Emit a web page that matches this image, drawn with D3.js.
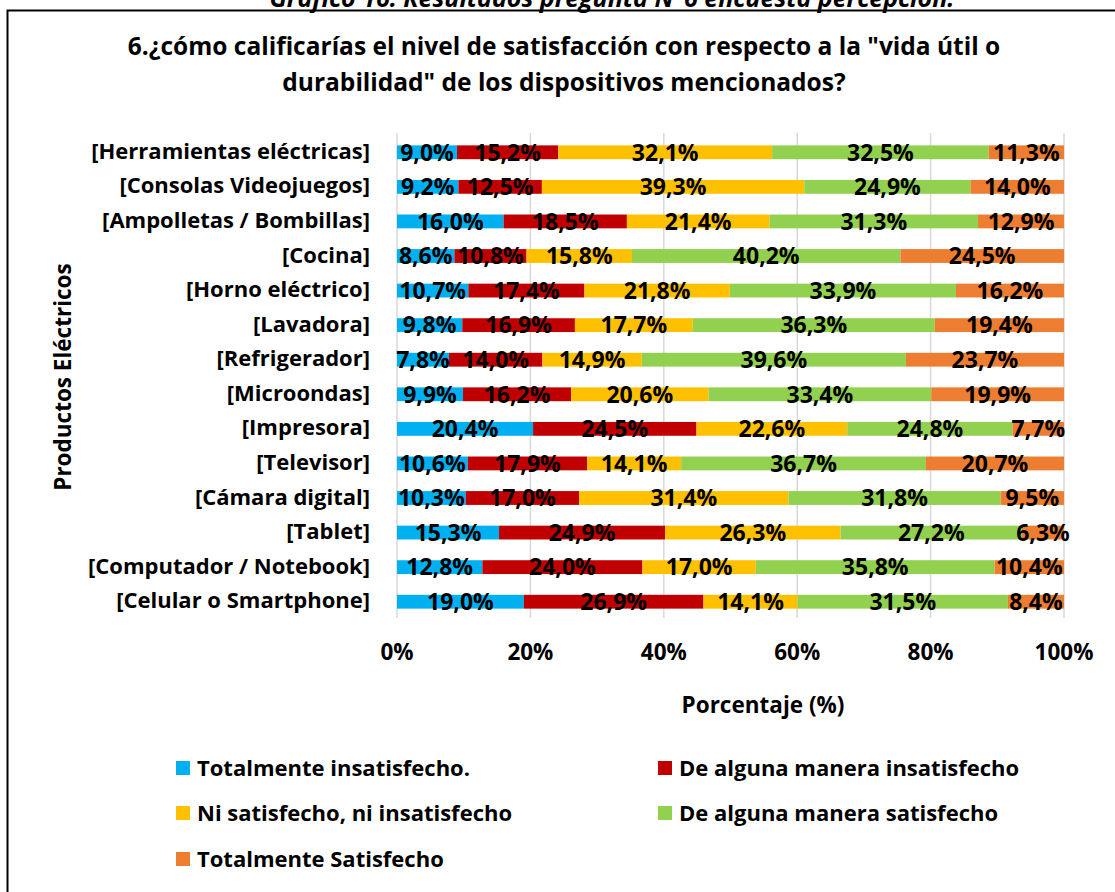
<!DOCTYPE html>
<html>
<head>
<meta charset="utf-8">
<script src="https://cdn.jsdelivr.net/npm/d3@7"></script>
<style>
  body { margin: 0; background: #fff; }
  text { font-family: "Open Sans", sans-serif; font-weight: bold; fill: #000; }
</style>
</head>
<body>
<svg id="chart" width="1115" height="892"></svg>
<script>
// data (percent per category)
var categories = ["[Herramientas eléctricas]", "[Consolas Videojuegos]", "[Ampolletas / Bombillas]",
    "[Cocina]", "[Horno eléctrico]", "[Lavadora]", "[Refrigerador]", "[Microondas]", "[Impresora]",
    "[Televisor]", "[Cámara digital]", "[Tablet]", "[Computador / Notebook]", "[Celular o Smartphone]"];
var totalInsat = [9.0, 9.2, 16.0, 8.6, 10.7, 9.8, 7.8, 9.9, 20.4, 10.6, 10.3, 15.3, 12.8, 19.0];
var algoInsat  = [15.2, 12.5, 18.5, 10.8, 17.4, 16.9, 14.0, 16.2, 24.5, 17.9, 17.0, 24.9, 24.0, 26.9];
var niNi       = [32.1, 39.3, 21.4, 15.8, 21.8, 17.7, 14.9, 20.6, 22.6, 14.1, 31.4, 26.3, 17.0, 14.1];
var algoSat    = [32.5, 24.9, 31.3, 40.2, 33.9, 36.3, 39.6, 33.4, 24.8, 36.7, 31.8, 27.2, 35.8, 31.5];
var totalSat   = [11.3, 14.0, 12.9, 24.5, 16.2, 19.4, 23.7, 19.9, 7.7, 20.7, 9.5, 6.3, 10.4, 8.4];
var seriesNames = ["Totalmente insatisfecho.", "De alguna manera insatisfecho",
    "Ni satisfecho, ni insatisfecho", "De alguna manera satisfecho", "Totalmente Satisfecho"];
var seriesColors = ["#00B0F0", "#C00000", "#FFC000", "#92D050", "#ED7D31"];
var tickValues = [0, 0.2, 0.4, 0.6, 0.8, 1];

var svg = d3.select("#chart");

// build rows for the stack
var allSeries = [totalInsat, algoInsat, niNi, algoSat, totalSat];
var keys = ["s0", "s1", "s2", "s3", "s4"];
var rows = categories.map(function (c, i) {
    var r = {cat: c};
    keys.forEach(function (k, j) { r[k] = allSeries[j][i]; });
    return r;
});
var stacked = d3.stack().keys(keys).offset(d3.stackOffsetExpand)(rows);

var x = d3.scaleLinear().domain([0, 1]).range([397, 1064]);
var y = d3.scaleBand().domain(categories).range([135, 619])
    .paddingInner(0.6).paddingOuter(0.3);

// outer frame
svg.append("rect")
    .attr("x", 7.5).attr("y", 10.5)
    .attr("width", 1120).attr("height", 900)
    .attr("fill", "none").attr("stroke", "#000").attr("stroke-width", 2);

// caption (cut at top, as in the source page)
svg.append("text")
    .attr("x", 612).attr("y", 7)
    .attr("text-anchor", "middle")
    .style("font-style", "italic")
    .style("font-size", "25px")
    .text("Gráfico 16: Resultados pregunta N°6 encuesta percepción.");

// title
var title = svg.append("text")
    .attr("text-anchor", "middle")
    .style("font-size", "24.5px");
title.append("tspan").attr("x", 564).attr("y", 55)
    .text("6.¿cómo calificarías el nivel de satisfacción con respecto a la \"vida útil o");
title.append("tspan").attr("x", 564).attr("y", 91)
    .text("durabilidad\" de los dispositivos mencionados?");

// gridlines
svg.append("g")
    .selectAll("line")
    .data(tickValues)
    .enter().append("line")
    .attr("x1", x).attr("x2", x)
    .attr("y1", 133).attr("y2", 618)
    .attr("stroke", "#d9d9d9")
    .attr("stroke-width", 1.5);

// bars
var layers = svg.append("g")
    .selectAll("g")
    .data(stacked)
    .enter().append("g")
    .attr("fill", function (d, i) { return seriesColors[i]; });

layers.selectAll("rect")
    .data(function (d) { return d; })
    .enter().append("rect")
    .attr("x", function (d) { return x(d[0]); })
    .attr("width", function (d) { return x(d[1]) - x(d[0]); })
    .attr("y", function (d) { return y(d.data.cat); })
    .attr("height", y.bandwidth());

// data labels
stacked.forEach(function (layer, j) {
    svg.append("g")
        .selectAll("text")
        .data(layer)
        .enter().append("text")
        .attr("x", function (d) { return (x(d[0]) + x(d[1])) / 2; })
        .attr("y", function (d) { return y(d.data.cat) + y.bandwidth() / 2; })
        .attr("dy", "0.36em")
        .attr("text-anchor", "middle")
        .style("font-size", "23px")
        .text(function (d, i) { return allSeries[j][i].toFixed(1).replace(".", ",") + "%"; });
});

// category labels
svg.append("g")
    .selectAll("text")
    .data(categories)
    .enter().append("text")
    .attr("x", 370)
    .attr("y", function (d) { return y(d) + y.bandwidth() / 2; })
    .attr("dy", "0.3em")
    .attr("text-anchor", "end")
    .style("font-size", "22px")
    .text(function (d) { return d; });

// x tick labels
svg.append("g")
    .selectAll("text")
    .data(tickValues)
    .enter().append("text")
    .attr("x", x)
    .attr("y", 652)
    .attr("dy", "0.35em")
    .attr("text-anchor", "middle")
    .style("font-size", "22.5px")
    .text(function (d) { return d3.format(".0%")(d); });

// axis titles
svg.append("text")
    .attr("x", 763).attr("y", 705)
    .attr("dy", "0.35em")
    .attr("text-anchor", "middle")
    .style("font-size", "22.5px")
    .text("Porcentaje (%)");

svg.append("text")
    .attr("transform", "translate(63,377) rotate(-90)")
    .attr("dy", "0.35em")
    .attr("text-anchor", "middle")
    .style("font-size", "22.5px")
    .text("Productos Eléctricos");

// legend
var legendPos = [[176, 768], [658, 768], [176, 813], [658, 813], [176, 859]];
var legend = svg.append("g")
    .selectAll("g")
    .data(seriesNames)
    .enter().append("g")
    .attr("transform", function (d, i) { return "translate(" + legendPos[i][0] + "," + legendPos[i][1] + ")"; });

legend.append("rect")
    .attr("x", 0).attr("y", -7)
    .attr("width", 14).attr("height", 14)
    .attr("fill", function (d, i) { return seriesColors[i]; });

legend.append("text")
    .attr("x", 21)
    .attr("dy", "0.35em")
    .style("font-size", "22px")
    .text(function (d) { return d; });
</script>
</body>
</html>
